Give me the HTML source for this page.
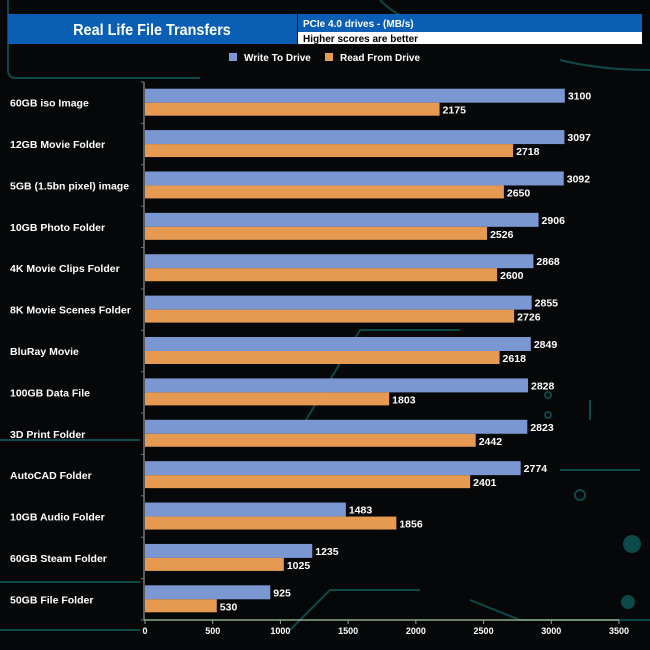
<!DOCTYPE html>
<html><head><meta charset="utf-8"><style>
body{margin:0;background:#050708;}
svg{display:block;font-family:"Liberation Sans",Arial,sans-serif;}
</style></head><body>
<svg id="c" width="650" height="650" viewBox="0 0 650 650">
<rect width="650" height="650" fill="#050708"/>
<g stroke="#0f5a58" stroke-width="2" fill="none" opacity="0.8">
<path d="M8 0 V70 Q8 78 16 78 H200"/>
<path d="M380 0 Q400 20 420 20 H640"/>
<path d="M560 60 Q600 70 650 70"/>
<path d="M0 440 H140"/>
<path d="M0 582 H140"/>
<path d="M300 430 L360 330 H460"/>
<path d="M290 630 L330 590 H420"/>
<path d="M590 400 V420"/>
<path d="M560 470 L640 470"/>
<path d="M470 600 L520 620 H650"/>
<path d="M0 630 H140"/>
<circle cx="632" cy="544" r="8" fill="#0f5a58"/>
<circle cx="628" cy="602" r="6" fill="#0f5a58"/>
<circle cx="580" cy="495" r="5"/>
<circle cx="548" cy="415" r="3"/>
<circle cx="548" cy="395" r="3"/>
</g>
<rect x="8" y="14" width="289" height="30" fill="#0a5fb4"/>
<text x="152" y="35" fill="#fff" font-size="16" font-weight="bold" text-anchor="middle" transform="translate(152 0) scale(0.9 1) translate(-152 0)">Real Life File Transfers</text>
<rect x="298" y="14" width="344" height="18" fill="#0a5fb4"/>
<rect x="298" y="32" width="344" height="12" fill="#fff"/>
<text x="303" y="27" fill="#fff" font-size="10" font-weight="bold">PCIe 4.0 drives - (MB/s)</text>
<text x="303" y="42" fill="#000" font-size="10" font-weight="bold">Higher scores are better</text>
<rect x="229" y="53" width="8" height="8" fill="#7b97d2"/>
<text x="244" y="61" fill="#fff" font-size="10" font-weight="bold">Write To  Drive</text>
<rect x="325" y="53" width="8" height="8" fill="#e69a51"/>
<text x="340" y="61" fill="#fff" font-size="10" font-weight="bold">Read From  Drive</text>
<g id="plot"></g>
</svg>
<script>
const categories=["60GB iso Image","12GB Movie Folder","5GB (1.5bn pixel) image","10GB Photo Folder","4K Movie Clips Folder","8K Movie Scenes Folder","BluRay Movie","100GB Data File","3D Print Folder","AutoCAD Folder","10GB Audio Folder","60GB Steam Folder","50GB File Folder"];
const writeValues=[3100,3097,3092,2906,2868,2855,2849,2828,2823,2774,1483,1235,925];
const readValues=[2175,2718,2650,2526,2600,2726,2618,1803,2442,2401,1856,1025,530];
const ticks=[0,500,1000,1500,2000,2500,3000,3500];
const NS="http://www.w3.org/2000/svg";
const plotG=document.getElementById('plot');
const x0=145,x1=619,plotTop=82,plotBottom=620,band=(plotBottom-plotTop)/categories.length;
const xs=v=>x0+(v/3500)*(x1-x0);
const yc=i=>plotTop+band*(i+0.5);
function mk(t,a){const e=document.createElementNS(NS,t);for(const k in a)e.setAttribute(k,a[k]);plotG.appendChild(e);return e;}
let e;
e=mk('line',{x1:x0-1,y1:plotTop,x2:x0-1,y2:plotBottom,stroke:'#777','stroke-width':1.5});


for(let i=0;i<=categories.length;i++){e=mk('line',{x1:x0-4,x2:x0-1,y1:plotTop+band*i,y2:plotTop+band*i,stroke:'#777'});

}
e=mk('line',{x1:x0-1,y1:plotBottom,x2:x1,y2:plotBottom,stroke:'#8fa886','stroke-width':1.5});


ticks.forEach(t=>{e=mk('line',{x1:xs(t),x2:xs(t),y1:plotBottom,y2:plotBottom+4,stroke:'#8fa886'});


e=mk('text',{x:xs(t),y:plotBottom+14,fill:'#fff','font-size':9,'font-weight':'bold','text-anchor':'middle'});e.textContent=t;

});
categories.forEach((c,i)=>{const y=yc(i);
e=mk('text',{x:10,y:y+4,fill:'#fff','font-size':10.5,'font-weight':'bold'});e.textContent=c;


e=mk('rect',{x:x0,y:y-14,width:xs(writeValues[i])-x0,height:14,fill:'#7b97d2'});


e=mk('rect',{x:x0,y:y,width:xs(readValues[i])-x0,height:13,fill:'#e69a51'});


e=mk('text',{x:xs(writeValues[i])+3,y:y-3,fill:'#fff','font-size':10.5,'font-weight':'bold'});e.textContent=writeValues[i];


e=mk('text',{x:xs(readValues[i])+3,y:y+11,fill:'#fff','font-size':10.5,'font-weight':'bold'});e.textContent=readValues[i];


});
</script>
</body></html>
